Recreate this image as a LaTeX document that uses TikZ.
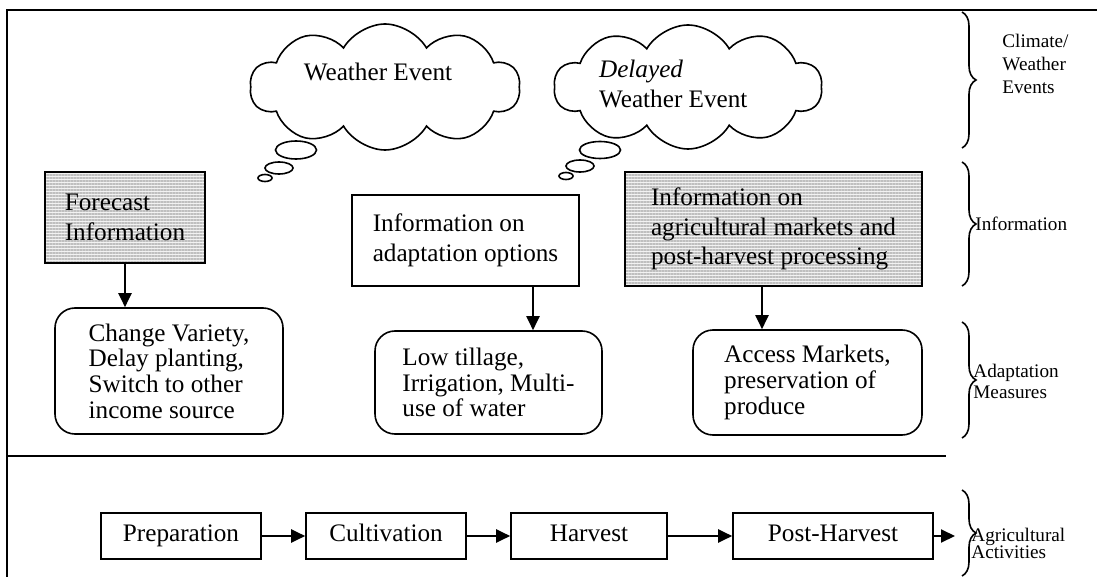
\documentclass[tikz,border=0pt]{standalone}
\usepackage{fontspec}
\setmainfont{Liberation Serif}
\usetikzlibrary{arrows.meta,shapes.geometric,shapes.symbols,patterns.meta,decorations.pathreplacing}

\begin{document}
\begin{tikzpicture}[x=0.5pt,y=-0.5pt]
  \tikzset{
    box/.style={draw, line width=0.8pt, align=left, inner ysep=0pt, font=\fontsize{12.6}{14.8}\selectfont},
    hatchbox/.style={box, preaction={fill=gray!10}, pattern={Lines[distance=1.5pt,line width=0.75pt]}, pattern color=gray!50},
    measure/.style={box, rounded corners=10pt, font=\fontsize{12.6}{12.8}\selectfont},
    stepbox/.style={box, align=center, minimum height=23pt, text height=1.6ex, text depth=0.45ex},
    wolke/.style={draw, cloud, cloud puffs=10, cloud puff arc=120, cloud ignores aspect, line width=0.8pt},
    bubble/.style={draw, ellipse, line width=0.8pt, inner sep=0pt},
    flow/.style={line width=1pt, -{Triangle[length=7pt,width=6.5pt]}},
    sidebrace/.style={decorate, decoration={brace, amplitude=7pt}, line width=0.8pt},
    sidelabel/.style={anchor=west, align=left, inner sep=0pt, font=\fontsize{9.6}{11.5}\selectfont}
  }
  \useasboundingbox (0,0) rectangle (1097,577);

  % frame and separator
  \coordinate (tr) at (1097,10);
  \coordinate (tl) at (7,10);
  \coordinate (bl) at (7,577);
  \draw[line width=0.8pt] (tr) -- (tl) -- (bl);
  \coordinate (sepl) at (7,456);
  \coordinate (sepr) at (946,456);
  \draw[line width=0.8pt] (sepl) -- (sepr);

  % weather events
  \node[wolke, minimum width=135pt, minimum height=63pt] (wx) at (385,87) {};
  \node[font=\fontsize{12.6}{15}\selectfont] (wxtext) at (378,72) {Weather Event};
  \node[bubble, minimum width=20.5pt, minimum height=9pt] (wxb1) at (296,150) {};
  \node[bubble, minimum width=14pt, minimum height=6pt] (wxb2) at (279,168) {};
  \node[bubble, minimum width=7pt, minimum height=3.5pt] (wxb3) at (265,178) {};

  \node[wolke, minimum width=134pt, minimum height=62pt] (dwx) at (688,87) {};
  \node[anchor=west, align=left, font=\fontsize{12.6}{15}\selectfont] (dwxtext) at (592,84) {\textit{Delayed}\\Weather Event};
  \node[bubble, minimum width=20.5pt, minimum height=8.5pt] (dwxb1) at (600,150) {};
  \node[bubble, minimum width=14pt, minimum height=6pt] (dwxb2) at (580,166) {};
  \node[bubble, minimum width=7pt, minimum height=3.5pt] (dwxb3) at (566,176) {};

  % information
  \node[hatchbox, minimum width=80pt, minimum height=45.5pt] (fcst) at (125,217.5) {Forecast\\Information};
  \node[box, minimum width=113.5pt, minimum height=45.5pt] (opts) at (465.5,240.5) {Information on\\adaptation options};
  \node[hatchbox, minimum width=148.5pt, minimum height=57pt] (mkts) at (773.5,229) {Information on\\agricultural markets and\\post-harvest processing};

  % adaptation measures
  \node[measure, minimum width=114pt, minimum height=63pt] (chg) at (169,371) {Change Variety,\\Delay planting,\\Switch to other\\income source};
  \node[measure, minimum width=113.5pt, minimum height=51.5pt] (till) at (488.5,382.5) {Low tillage,\\Irrigation, Multi-\\use of water};
  \node[measure, minimum width=114.5pt, minimum height=52.5pt] (acc) at (807.5,382.5) {Access Markets,\\preservation of\\produce};

  \draw[flow] (fcst.south) -- (fcst.south |- chg.north);
  \draw[flow] ([xshift=33.75pt]opts.south) -- ([xshift=33.75pt]opts.south |- till.north);
  \draw[flow] ([xshift=-5.75pt]mkts.south) -- ([xshift=-5.75pt]mkts.south |- acc.north);

  % agricultural activities
  \node[stepbox, minimum width=80pt] (prep) at (181,536) {Preparation};
  \node[stepbox, minimum width=80pt] (cult) at (386,536) {Cultivation};
  \node[stepbox, minimum width=78pt] (harv) at (589,536) {Harvest};
  \node[stepbox, minimum width=100pt] (post) at (833,536) {Post-Harvest};
  \coordinate (agend) at (955,536);
  \draw[flow] (prep) -- (cult);
  \draw[flow] (cult) -- (harv);
  \draw[flow] (harv) -- (post);
  \draw[flow] (post) -- (agend);

  % braces on the right
  \draw[sidebrace] (962,12) -- (962,148);
  \draw[sidebrace] (962,162) -- (962,286);
  \draw[sidebrace] (962,322) -- (962,438);
  \draw[sidebrace] (962,490) -- (962,576);
  \node[sidelabel] (climlbl) at (1002,64) {Climate/\\Weather\\Events};
  \node[sidelabel] (infolbl) at (975,224) {Information};
  \node[sidelabel, font=\fontsize{9.6}{10.5}\selectfont] (adaplbl) at (973,381) {Adaptation\\Measures};
  \node[sidelabel, font=\fontsize{9.6}{8.5}\selectfont] (agrilbl) at (971,543) {Agricultural\\Activities};
\end{tikzpicture}
\end{document}
